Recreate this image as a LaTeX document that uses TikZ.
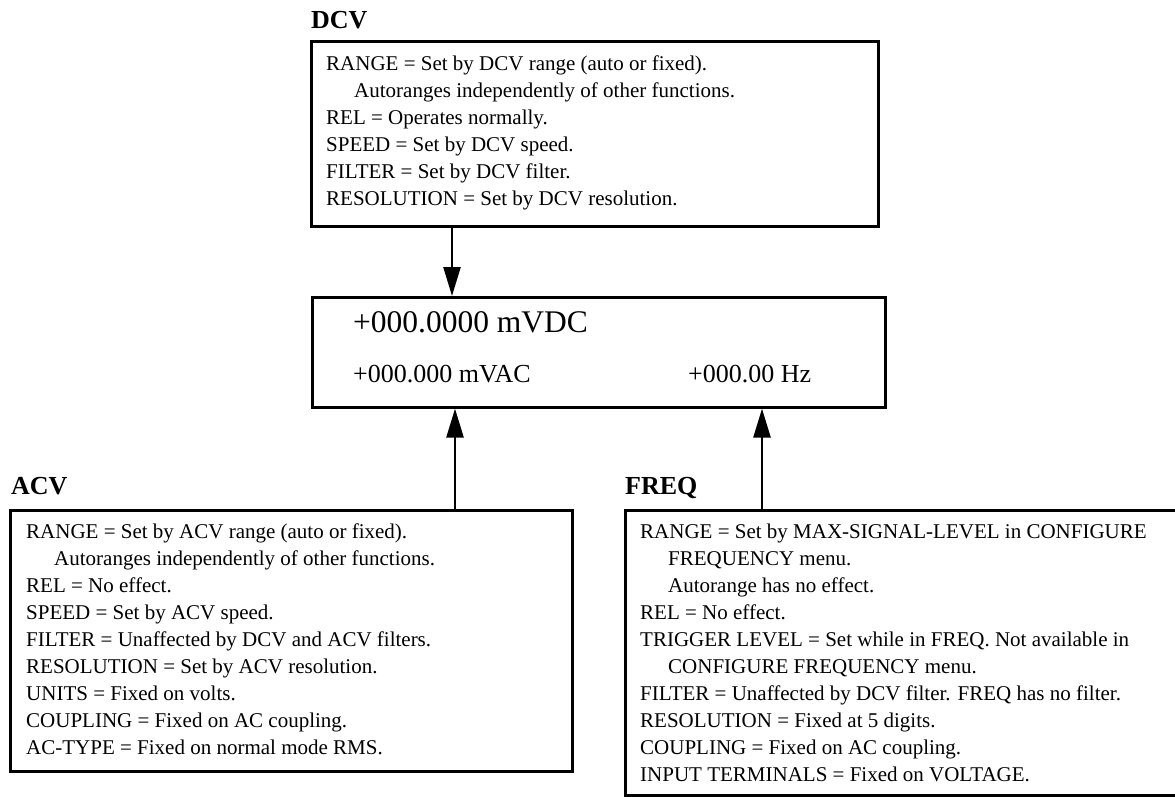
\documentclass[tikz,border=0pt]{standalone}
\usepackage{fontspec}
\setmainfont{Liberation Serif}
\usetikzlibrary{arrows.meta}
\begin{document}
\begin{tikzpicture}[x=1pt,y=-1pt,
  box/.style={draw, line width=2.6pt, rectangle, anchor=north west, inner sep=0pt},
  txt/.style={anchor=north west, align=left, inner sep=0pt, font=\fontsize{21}{27}\selectfont},
  ttl/.style={anchor=base west, inner sep=0pt, font=\fontsize{26}{28}\selectfont\bfseries},
  big/.style={anchor=base west, inner sep=0pt, font=\fontsize{31.5}{34}\selectfont},
  mid/.style={anchor=base west, inner sep=0pt, font=\fontsize{26}{28}\selectfont},
  arr/.style={line width=2.5pt, -{Triangle[length=29pt,width=17pt]}}]
\useasboundingbox (0,0) rectangle (1175,796);
\fill[white] (0,0) rectangle (1175,796);
% DCV
\node[ttl] (dcvl) at (311,28) {DCV};
\node[box, minimum width=567pt, minimum height=185pt] (dcv) at (310,40) {};
\node[txt] (dcvt) at (326,55.5) {RANGE = Set by DCV range (auto or fixed).\\
\hspace*{28pt}Autoranges independently of other functions.\\
REL = Operates normally.\\
SPEED = Set by DCV speed.\\
FILTER = Set by DCV filter.\\
RESOLUTION = Set by DCV resolution.};
% display
\node[box, minimum width=573pt, minimum height=110pt] (disp) at (311,296) {};
\node[big] (d1) at (353,332) {+000.0000 mVDC};
\node[mid] (d2) at (353,382) {+000.000 mVAC};
\node[mid] (d3) at (688,382) {+000.00 Hz};
% ACV
\node[ttl] (acvl) at (11,494) {ACV};
\node[box, minimum width=562pt, minimum height=261pt] (acv) at (9,509) {};
\node[txt] (acvt) at (26,523.5) {RANGE = Set by ACV range (auto or fixed).\\
\hspace*{28pt}Autoranges independently of other functions.\\
REL = No effect.\\
SPEED = Set by ACV speed.\\
FILTER = Unaffected by DCV and ACV filters.\\
RESOLUTION = Set by ACV resolution.\\
UNITS = Fixed on volts.\\
COUPLING = Fixed on AC coupling.\\
AC-TYPE = Fixed on normal mode RMS.};
% FREQ
\node[ttl] (freql) at (625,494) {FREQ};
\node[box, minimum width=565pt, minimum height=285pt] (freq) at (624,509) {};
\node[txt] (freqt) at (640,523.5) {RANGE = Set by MAX-SIGNAL-LEVEL in CONFIGURE\\
\hspace*{28pt}FREQUENCY menu.\\
\hspace*{28pt}Autorange has no effect.\\
REL = No effect.\\
TRIGGER LEVEL = Set while in FREQ. Not available in\\
\hspace*{28pt}CONFIGURE FREQUENCY menu.\\
FILTER = Unaffected by DCV filter. FREQ has no filter.\\
RESOLUTION = Fixed at 5 digits.\\
COUPLING = Fixed on AC coupling.\\
INPUT TERMINALS = Fixed on VOLTAGE.};
% arrows
\draw[arr] (452,0 |- dcv.south) -- (452,0 |- disp.north);
\draw[arr] (455,0 |- acv.north) -- (455,0 |- disp.south);
\draw[arr] (762,0 |- freq.north) -- (762,0 |- disp.south);
\end{tikzpicture}
\end{document}
